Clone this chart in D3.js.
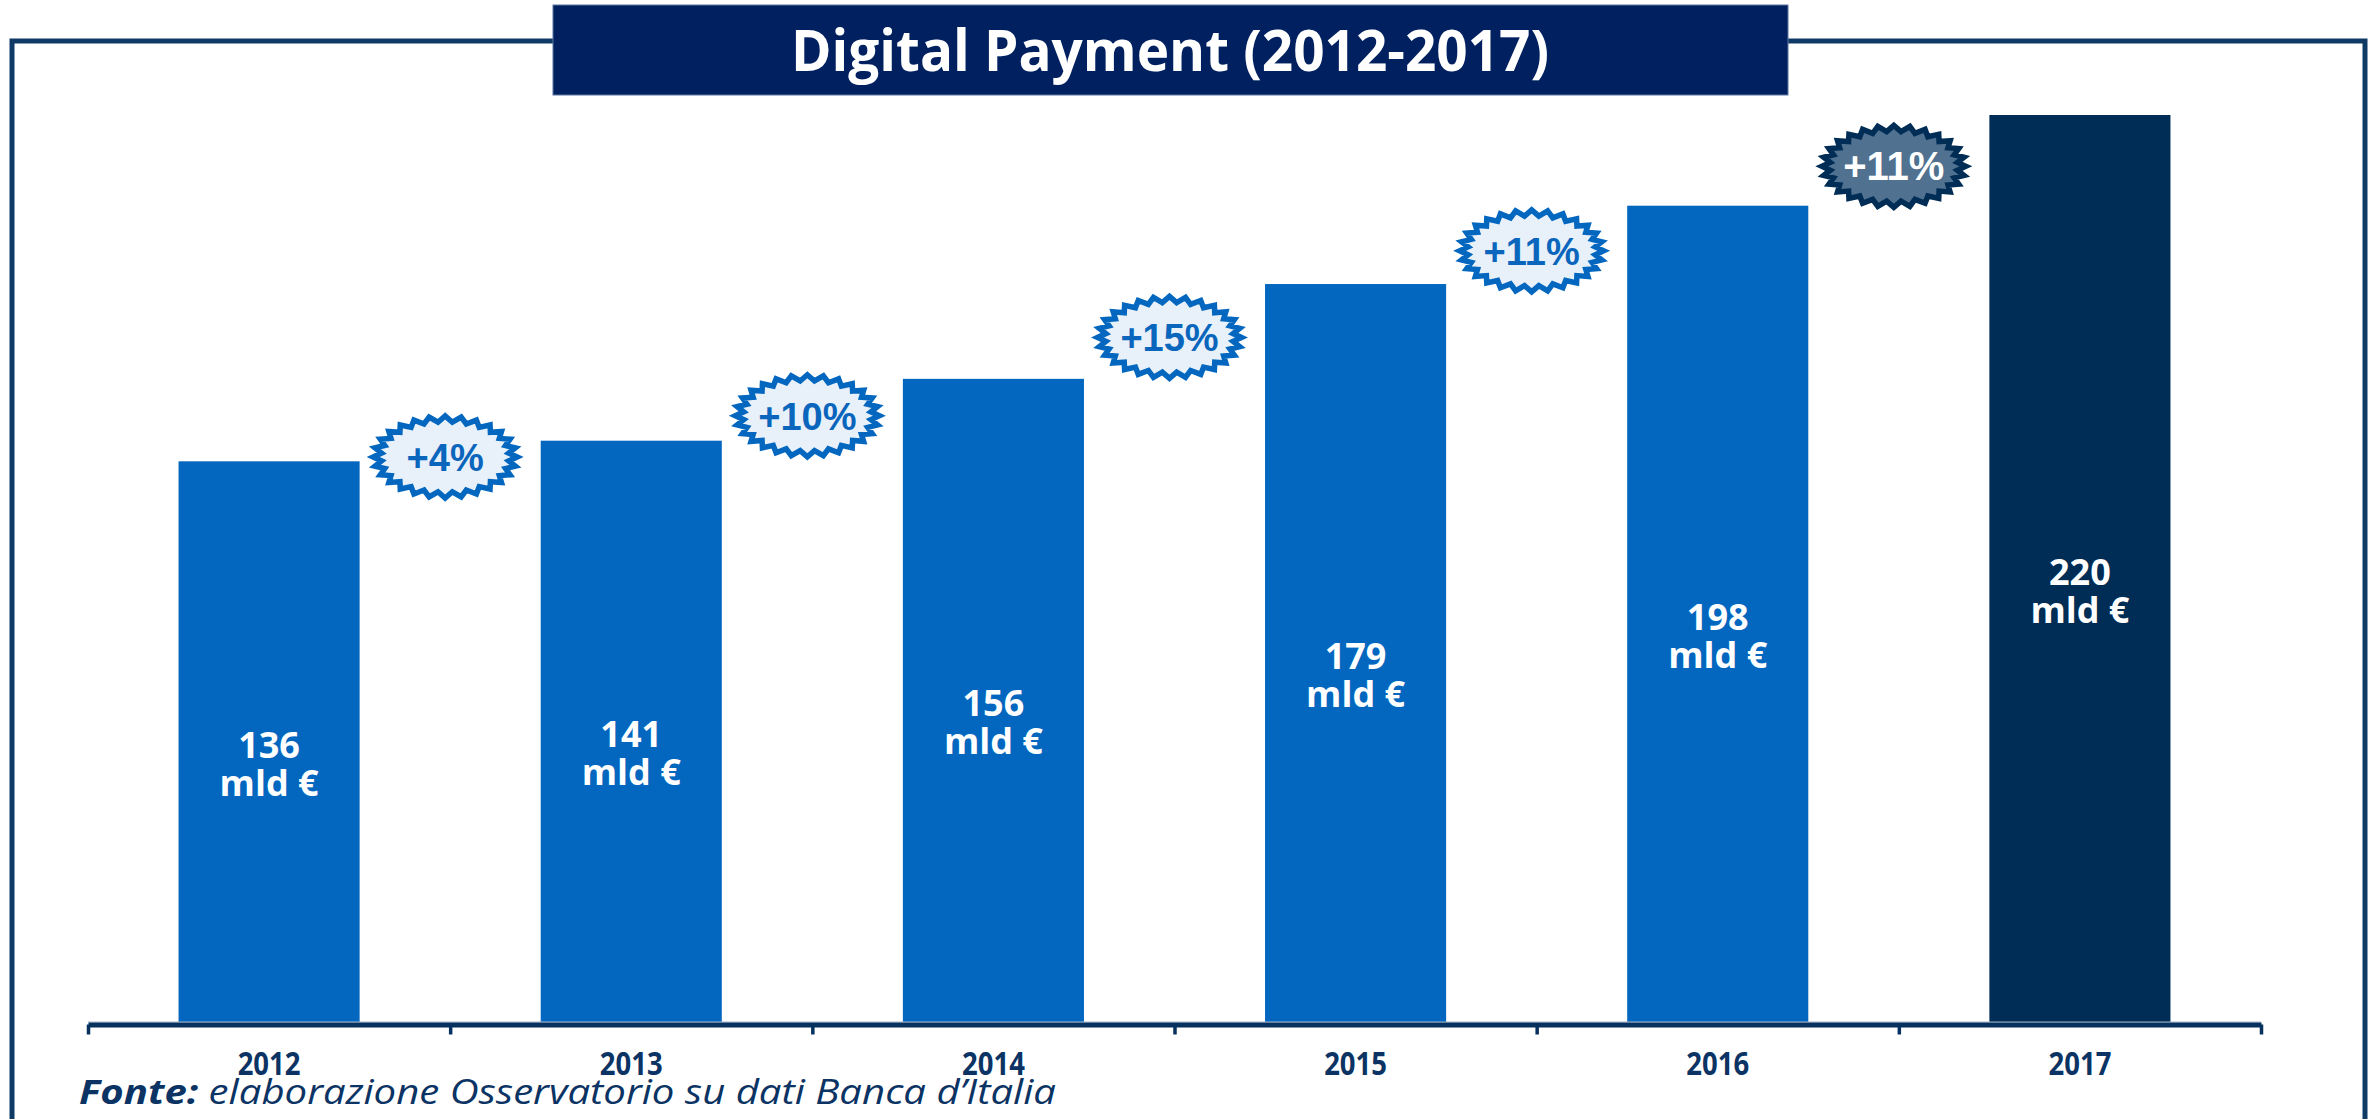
<!DOCTYPE html>
<html>
<head>
<meta charset="utf-8">
<script src="https://cdn.jsdelivr.net/npm/d3@7"></script>
<style>
  html, body { margin: 0; padding: 0; background: #ffffff; }
  svg { display: block; }
</style>
</head>
<body>
<svg id="chart" width="2376" height="1119"></svg>
<script>
// ---- data ----
const title = "Digital Payment (2012-2017)";
const years = ["2012", "2013", "2014", "2015", "2016", "2017"];
const values = [136, 141, 156, 179, 198, 220];
const growthLabels = ["+4%", "+10%", "+15%", "+11%", "+11%"];
const unitLabel = "mld €";
const sourceBold = "Fonte:";
const sourceText = " elaborazione Osservatorio su dati Banca d\u2019Italia";

// ---- layout ----
const W = 2376, H = 1119;
const svg = d3.select("#chart");
const navy = "#0f3a66";
const blue = "#0467bf";
const dark = "#002d56";

const x = d3.scaleBand().domain(years).range([88, 2261]).paddingInner(0.5).paddingOuter(0.25);
const y = d3.scaleLinear().domain([0, 220]).range([1022, 115]);
const xb = d3.scaleLinear().domain([0, years.length]).range([88, 2261]);

// frame
svg.append("rect")
  .attr("x", 12).attr("y", 41)
  .attr("width", 2353).attr("height", H + 40)
  .attr("fill", "none").attr("stroke", navy).attr("stroke-width", 5);

// title box
svg.append("rect")
  .attr("x", 553).attr("y", 5).attr("width", 1235).attr("height", 90)
  .attr("fill", "#002060").attr("stroke", "#5a76a0").attr("stroke-width", 1);
svg.append("text")
  .attr("x", 1170).attr("y", 71)
  .attr("text-anchor", "middle")
  .attr("font-family", "'Open Sans', sans-serif")
  .attr("font-weight", "bold")
  .attr("font-size", 58)
  .attr("textLength", 758).attr("lengthAdjust", "spacingAndGlyphs")
  .attr("fill", "#ffffff")
  .text(title);

// bars
const last = years.length - 1;
svg.append("g").selectAll("rect")
  .data(years)
  .join("rect")
  .attr("x", d => x(d))
  .attr("y", (d, i) => y(values[i]))
  .attr("width", x.bandwidth())
  .attr("height", (d, i) => y(0) - y(values[i]))
  .attr("fill", (d, i) => i === last ? dark : blue);

// bar value labels
const lab = svg.append("g")
  .attr("font-family", "'Open Sans', sans-serif")
  .attr("font-weight", "bold")
  .attr("font-size", 36)
  .attr("fill", "#ffffff")
  .attr("text-anchor", "middle");
years.forEach((d, i) => {
  const cx = x(d) + x.bandwidth() / 2;
  const base = (y(values[i]) + y(0)) / 2 + 16;
  const t = lab.append("text").attr("x", cx).attr("y", base);
  t.append("tspan").attr("x", cx).attr("y", base).text(values[i]);
  t.append("tspan").attr("x", cx).attr("y", base + 38).text(unitLabel);
});

// axis: thin top line + thick domain line with boundary ticks
svg.append("line")
  .attr("x1", 88).attr("x2", 2261).attr("y1", 1022).attr("y2", 1022)
  .attr("stroke", "#9fb3c8").attr("stroke-width", 1);
const tickAxis = d3.axisBottom(xb)
  .tickValues(d3.range(years.length + 1))
  .tickFormat("")
  .tickSize(10)
  .tickSizeOuter(0);
const gTicks = svg.append("g").attr("transform", "translate(0,1024.5)").call(tickAxis);
gTicks.select(".domain").attr("stroke", "#06315e").attr("stroke-width", 5);
gTicks.selectAll(".tick line").attr("stroke", "#06315e").attr("stroke-width", 3.5);

const labelAxis = d3.axisBottom(x).tickSize(0).tickPadding(0);
const gLab = svg.append("g").attr("transform", "translate(0,1024)").call(labelAxis);
gLab.select(".domain").remove();
gLab.selectAll(".tick text")
  .attr("y", 51).attr("dy", 0)
  .attr("font-family", "'Open Sans', sans-serif")
  .attr("font-weight", "bold")
  .attr("font-size", 32)
  .attr("fill", "#0b3363")
  .attr("transform", "scale(0.86,1)");

// growth badges
function starPath(cx, cy, rxo, ryo, rxi, ryi, n) {
  const pts = [];
  for (let k = 0; k < 2 * n; k++) {
    const a = k * Math.PI / n;
    const o = k % 2 === 0;
    pts.push([cx + (o ? rxo : rxi) * Math.cos(a), cy + (o ? ryo : ryi) * Math.sin(a)]);
  }
  return d3.line()(pts) + "Z";
}
const badges = svg.append("g");
growthLabels.forEach((g, i) => {
  const cx = xb(i + 1) - 5;
  const cy = (y(values[i]) + y(values[i + 1])) / 2 + 6;
  const isLast = i === growthLabels.length - 1;
  badges.append("path")
    .attr("d", starPath(cx, cy, 72, 41, 64, 35, 28))
    .attr("fill", isLast ? "#50718f" : "#e8f1f9")
    .attr("stroke", isLast ? dark : blue)
    .attr("stroke-width", 5.5)
    .attr("stroke-linejoin", "miter");
  badges.append("text")
    .attr("x", cx).attr("y", cy + 14)
    .attr("text-anchor", "middle")
    .attr("font-family", "'Liberation Sans', Arial, sans-serif")
    .attr("font-weight", isLast ? "bold" : "600")
    .attr("font-size", isLast ? 40 : 38)
    .attr("fill", isLast ? "#ffffff" : "#0a66bc")
    .text(g);
});

// source
const src = svg.append("text")
  .attr("x", 79).attr("y", 1104)
  .attr("font-family", "'Open Sans', sans-serif")
  .attr("font-style", "italic")
  .attr("font-size", 34)
  .attr("fill", "#0b3363")
  .attr("textLength", 977).attr("lengthAdjust", "spacingAndGlyphs");
src.append("tspan").attr("font-weight", "bold").text(sourceBold);
src.append("tspan").text(sourceText);
</script>
</body>
</html>
